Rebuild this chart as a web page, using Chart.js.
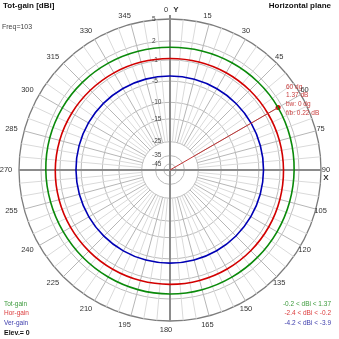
<!DOCTYPE html>
<html>
<head>
<meta charset="utf-8">
<script src="https://cdn.jsdelivr.net/npm/chart.js@4/dist/chart.umd.min.js"></script>
<style>
  html, body { margin: 0; padding: 0; background: #fff; }
  #pattern { display: block; }
</style>
</head>
<body>
<canvas id="pattern" width="339" height="339"></canvas>
<script>
// azimuth, degrees (clockwise from Y)
const angles = [0, 15, 30, 45, 60, 75, 90, 105, 120, 135, 150, 165,
                180, 195, 210, 225, 240, 255, 270, 285, 300, 315, 330, 345];

// gain in dBi at each azimuth
const totGain = [1.05, 1.12, 1.22, 1.31, 1.37, 1.33, 1.27, 1.22, 1.19, 1.19, 1.21, 1.24,
                 1.25, 1.23, 1.19, 1.16, 1.15, 1.2, 1.28, 1.32, 1.3, 1.24, 1.16, 1.09];
const horGain = [-0.75, -0.7, -0.62, -0.55, -0.5, -0.45, -0.42, -0.38, -0.34, -0.31, -0.29, -0.28,
                 -0.28, -0.26, -0.24, -0.22, -0.21, -0.2, -0.22, -0.3, -0.42, -0.55, -0.65, -0.72];
const verGain = [-3.95, -3.97, -3.99, -4.0, -4.02, -4.04, -4.05, -4.07, -4.09, -4.1, -4.11, -4.12,
                 -4.12, -4.1, -4.08, -4.05, -4.02, -3.98, -3.95, -3.93, -3.92, -3.92, -3.93, -3.94];

// ring values in dB (outside in)
const ringDb = [5, 2, -1, -5, -10, -15, -25, -35, -45];

// max gain marker
const peakAngle = 60;
const peakDb = 1.37;
const peakInfo = ["60 dg", "1.37 dB", "bw: 0 dg", "f/b: 0.22 dB"];

const legendNames = ["Tot-gain", "Hor-gain", "Ver-gain"];
const legendRanges = ["-0.2 < dBi < 1.37", "-2.4 < dBi < -0.2", "-4.2 < dBi < -3.9"];
const freqText = "Freq=103";
const elevText = "Elev.= 0";

const GREEN = "#0a8a0a", RED = "#d20000", BLUE = "#0000b4";
const FONT = "'Liberation Sans', Arial, sans-serif";

// log-type radial scale: 5 dB on the rim, about -57 dB at the centre
const TOP_DB = 5;
const K = 0.05;
const FLOOR = Math.exp(K * (-57.5 - TOP_DB));
function toR(db) {
  const v = (Math.exp(K * (db - TOP_DB)) - FLOOR) / (1 - FLOOR);
  return Math.max(0, v);
}

const ringTicks = [0].concat(ringDb.slice().reverse().map(toR));

function polar(scale, deg, dist) {
  const a = deg * Math.PI / 180;
  return { x: scale.xCenter + dist * Math.sin(a), y: scale.yCenter - dist * Math.cos(a) };
}

const gridPlugin = {
  id: "grid",
  beforeDatasetsDraw(chart) {
    const s = chart.scales.r;
    const ctx = chart.ctx;
    const R = s.drawingArea;
    const r0 = s.getDistanceFromCenterForValue(toR(-25));
    ctx.save();
    // 5 degree spokes
    for (let d = 0; d < 360; d += 5) {
      if (d % 90 === 0) continue;
      const p1 = polar(s, d, r0);
      const p2 = polar(s, d, R);
      ctx.strokeStyle = d % 15 === 0 ? "#b6b6b6" : "#dadada";
      ctx.lineWidth = 1;
      ctx.beginPath();
      ctx.moveTo(p1.x, p1.y);
      ctx.lineTo(p2.x, p2.y);
      ctx.stroke();
    }
    // X / Y axes
    ctx.strokeStyle = "#8c8c8c";
    ctx.lineWidth = 2;
    ctx.beginPath();
    ctx.moveTo(s.xCenter - R, s.yCenter);
    ctx.lineTo(s.xCenter + R, s.yCenter);
    ctx.moveTo(s.xCenter, s.yCenter - R - 4);
    ctx.lineTo(s.xCenter, s.yCenter + R);
    ctx.stroke();

    // ring values
    ctx.font = "6.5px " + FONT;
    ctx.fillStyle = "#444";
    ctx.textAlign = "left";
    ctx.textBaseline = "middle";
    ringDb.forEach(db => {
      const r = s.getDistanceFromCenterForValue(toR(db));
      ctx.fillText(String(db), s.xCenter - 18, s.yCenter - r);
    });
    ctx.restore();
  },
  afterDatasetsDraw(chart) {
    const s = chart.scales.r;
    const ctx = chart.ctx;
    ctx.save();

    // line from the centre to the peak point
    const meta = chart.getDatasetMeta(3);
    const pt = meta.data[angles.indexOf(peakAngle)];
    ctx.strokeStyle = "#c03434";
    ctx.lineWidth = 1;
    ctx.beginPath();
    ctx.moveTo(s.xCenter, s.yCenter);
    ctx.lineTo(pt.x, pt.y);
    ctx.stroke();

    ctx.fillStyle = "#c83c3c";
    ctx.font = "6.5px " + FONT;
    ctx.textAlign = "left";
    ctx.textBaseline = "middle";
    peakInfo.forEach((t, i) => ctx.fillText(t, 286, 87 + i * 8.7));

    // azimuth labels
    ctx.fillStyle = "#333";
    ctx.font = "7.5px " + FONT;
    ctx.textAlign = "center";
    angles.forEach(a => {
      const p = polar(s, a, 160);
      ctx.fillText(String(a), p.x - 4, p.y);
    });
    ctx.font = "bold 8px " + FONT;
    ctx.fillText("Y", s.xCenter + 6, 10);
    ctx.fillText("X", s.xCenter + 156, s.yCenter + 8);

    // headers
    ctx.textBaseline = "middle";
    ctx.textAlign = "left";
    ctx.fillStyle = "#111";
    ctx.font = "bold 8px " + FONT;
    ctx.fillText("Tot-gain [dBi]", 3, 6);
    ctx.textAlign = "right";
    ctx.fillText("Horizontal plane", 331, 6);
    ctx.textAlign = "left";
    ctx.font = "7px " + FONT;
    ctx.fillStyle = "#444";
    ctx.fillText(freqText, 2, 27);

    // legend
    const cols = ["#3c9a3c", "#dc3c3c", "#3c3cac"];
    ctx.font = "6.5px " + FONT;
    legendNames.forEach((t, i) => {
      ctx.fillStyle = cols[i];
      ctx.textAlign = "left";
      ctx.fillText(t, 4, 304 + i * 9.6);
      ctx.textAlign = "right";
      ctx.fillText(legendRanges[i], 331, 304 + i * 9.6);
    });
    ctx.textAlign = "left";
    ctx.fillStyle = "#111";
    ctx.font = "bold 7px " + FONT;
    ctx.fillText(elevText, 4, 333);
    ctx.restore();
  }
};

const line = (label, values, color) => ({
  label: label,
  data: values.map(toR),
  borderColor: color,
  borderWidth: 1.6,
  pointRadius: 0,
  fill: false
});

new Chart(document.getElementById("pattern"), {
  type: "radar",
  data: {
    labels: angles,
    datasets: [
      line("Tot-gain", totGain, GREEN),
      line("Hor-gain", horGain, RED),
      line("Ver-gain", verGain, BLUE),
      {
        label: "peak",
        data: angles.map(a => (a === peakAngle ? toR(peakDb) : null)),
        showLine: false,
        pointRadius: 2.5,
        pointBackgroundColor: "#d00000",
        pointBorderWidth: 0
      }
    ]
  },
  options: {
    responsive: false,
    animation: false,
    layout: { padding: { left: 19, right: 18, top: 19, bottom: 18 } },
    elements: { line: { tension: 0.3 } },
    plugins: { legend: { display: false }, tooltip: { enabled: false } },
    scales: {
      r: {
        min: 0,
        max: 1,
        startAngle: 0,
        afterBuildTicks: scale => {
          scale.ticks = ringTicks.map(v => ({ value: v }));
        },
        ticks: { display: false },
        pointLabels: { display: false },
        angleLines: { display: false },
        grid: {
          circular: true,
          color: c => (c.index === ringTicks.length - 1 ? "#7c7c7c" : "#bcbcbc"),
          lineWidth: c => (c.index === ringTicks.length - 1 ? 1.3 : 1)
        }
      }
    }
  },
  plugins: [gridPlugin]
});
</script>
</body>
</html>
